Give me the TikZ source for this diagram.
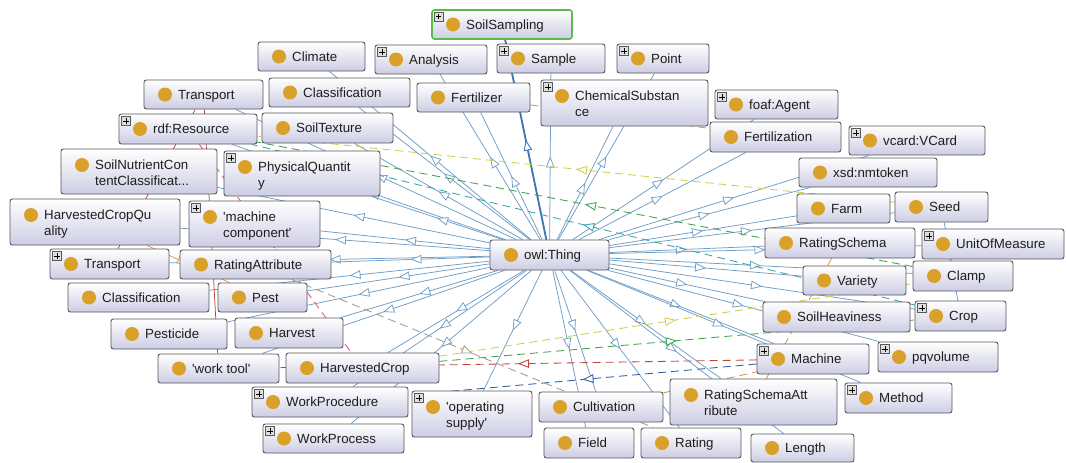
\documentclass[tikz,border=0pt]{standalone}
\usepackage{fontspec}
\setmainfont{Liberation Sans}
\usetikzlibrary{arrows.meta,decorations.markings,fit,shadings}

\definecolor{isac}{HTML}{6E9DC6}
\definecolor{ssc}{HTML}{3C78B5}
\definecolor{boxedge}{HTML}{55555F}
\definecolor{boxlav}{HTML}{CDCDE4}
\definecolor{dotgold}{HTML}{D9A02A}
\definecolor{textc}{HTML}{1E1E1E}
\definecolor{selgreen}{HTML}{5DBB4E}
\definecolor{relyel}{HTML}{D0D048}
\definecolor{relgrn}{HTML}{3FA34D}
\definecolor{relteal}{HTML}{3AA3B0}
\definecolor{relred}{HTML}{C2413A}
\definecolor{relblue}{HTML}{2F5F9E}
\definecolor{relorg}{HTML}{D8944A}
\definecolor{relgray}{HTML}{A59A88}
\definecolor{relpink}{HTML}{D45A7A}

\pgfdeclarelayer{canvas}
\pgfdeclarelayer{background}
\pgfsetlayers{canvas,background,main}

\tikzset{
  cbox/.style={rectangle, rounded corners=2.5pt, draw=boxedge, line width=0.9pt,
    top color=white, bottom color=boxlav, inner sep=0pt},
  dotc/.style={fill=dotgold},
  ctext/.style={font=\fontsize{13.3}{15.5}\selectfont, text=textc, inner sep=0pt},
  pbox/.style={draw=gray!70!black, fill=gray!25, line width=0.5pt},
  psign/.style={draw=black, line width=1.1pt},
  midarrow/.style={postaction={decorate}, decoration={markings,
    mark=at position 0.5 with {\arrow{Triangle[open, fill=white, length=11pt, width=8.5pt]}}}},
  isa/.style={color=isac, line width=0.75pt, midarrow},
  rel/.style={color=#1, line width=0.85pt, dash pattern=on 8pt off 5pt, midarrow},
  link/.style={color=#1, line width=0.75pt, midarrow},
}

% class box with a one-line label
\newcommand\onecls[6]{%
  \node[cbox, fit={(#2,#3) (#4,#5)}] (#1) {};
  \fill[dotc] ({#2+21},{(#3+#5)/2}) circle[radius=7pt];
  \node[ctext, anchor=base west] at ({#2+34},{(#3+#5)/2+4.8}) {#6};
}
% class box with a label broken over two lines
\newcommand\twocls[6]{%
  \node[cbox, fit={(#2,#3) (#4,#5)}] (#1) {};
  \fill[dotc] ({#2+21},{#3+16}) circle[radius=7pt];
  \node[ctext, anchor=north west, align=left] at ({#2+34},{#3+11.1}) {#6};
}
% expand marker in the upper left corner of a box
\newcommand\expandmark[1]{%
  \draw[pbox] ([shift={(3,3)}]#1.north west) rectangle ++(9,9);
  \draw[psign] ([shift={(4.9,7.5)}]#1.north west) -- ++(5.2,0)
               ([shift={(7.5,4.9)}]#1.north west) -- ++(0,5.2);
}

\begin{document}
\begin{tikzpicture}[x=1pt,y=-1pt]
\begin{pgfonlayer}{canvas}
  \fill[white] (0,0) rectangle (1066,463);
\end{pgfonlayer}
\useasboundingbox (0,0) rectangle (1066,463);

% ---- classes ----
\node[cbox, draw=selgreen, line width=1.6pt, fit={(432,10) (572,39)}] (soilsampling) {};
\fill[dotc] (453,24.5) circle[radius=7pt];
\node[ctext, anchor=base west] at (466,29.3) {SoilSampling};
\expandmark{soilsampling}

\onecls{climate}{258}{42}{365}{71}{Climate}
\onecls{analysis}{375}{45}{487}{74}{Analysis}\expandmark{analysis}
\onecls{sample}{497}{44}{605}{73}{Sample}\expandmark{sample}
\onecls{point}{617}{44}{709}{73}{Point}\expandmark{point}
\onecls{transportA}{144}{80}{263}{109}{Transport}
\onecls{classA}{269}{78}{410}{107}{Classification}
\onecls{fertilizer}{417}{83}{530}{112}{Fertilizer}
\twocls{chemical}{541}{80}{708}{126}{ChemicalSubstan\\ce}\expandmark{chemical}
\onecls{agent}{715}{90}{838}{119}{foaf:Agent}\expandmark{agent}
\onecls{fertilization}{710}{122}{841}{152}{Fertilization}
\onecls{vcard}{849}{126}{985}{155}{vcard:VCard}\expandmark{vcard}
\onecls{rdfres}{119}{114}{257}{144}{rdf:Resource}\expandmark{rdfres}
\onecls{soiltexture}{262}{113}{393}{143}{SoilTexture}
\twocls{soilnutrient}{61}{149}{217}{194}{SoilNutrientCon\\tentClassificat...}
\twocls{physq}{224}{151}{380}{196}{PhysicalQuantit\\y}\expandmark{physq}
\onecls{nmtoken}{799}{158}{937}{187}{xsd:nmtoken}
\twocls{hcq}{10}{199}{180}{245}{HarvestedCropQu\\ality}
\twocls{machcomp}{189}{201}{320}{247}{\textquotesingle machine\\component\textquotesingle}\expandmark{machcomp}
\onecls{farm}{797}{194}{890}{223}{Farm}
\onecls{seed}{895}{192}{988}{222}{Seed}
\onecls{ratingschema}{765}{228}{915}{258}{RatingSchema}
\onecls{unit}{922}{229}{1064}{259}{UnitOfMeasure}\expandmark{unit}
\onecls{thing}{490}{240}{609}{270}{owl:Thing}
\onecls{transportB}{50}{249}{169}{279}{Transport}\expandmark{transportB}
\onecls{ratingattr}{180}{250}{331}{279}{RatingAttribute}
\onecls{variety}{803}{266}{906}{295}{Variety}
\onecls{clamp}{913}{261}{1013}{291}{Clamp}
\onecls{classB}{68}{283}{209}{312}{Classification}
\onecls{pest}{218}{283}{307}{312}{Pest}
\onecls{soilheav}{763}{302}{910}{332}{SoilHeaviness}
\onecls{crop}{915}{301}{1006}{331}{Crop}\expandmark{crop}
\onecls{pesticide}{111}{319}{227}{349}{Pesticide}
\onecls{harvest}{235}{318}{343}{348}{Harvest}
\onecls{machine}{757}{344}{869}{374}{Machine}\expandmark{machine}
\onecls{pqvolume}{878}{342}{998}{372}{pqvolume}\expandmark{pqvolume}
\onecls{worktool}{158}{354}{279}{383}{\textquotesingle work tool\textquotesingle}
\onecls{harvcrop}{286}{353}{439}{383}{HarvestedCrop}
\twocls{rsa}{670}{379}{837}{425}{RatingSchemaAtt\\ribute}
\onecls{method}{845}{383}{952}{413}{Method}\expandmark{method}
\onecls{workproc}{252}{387}{408}{417}{WorkProcedure}\expandmark{workproc}
\twocls{opsupply}{412}{391}{532}{437}{\textquotesingle operating\\supply\textquotesingle}\expandmark{opsupply}
\onecls{cultivation}{539}{392}{663}{422}{Cultivation}
\onecls{workprocess}{263}{424}{404}{453}{WorkProcess}\expandmark{workprocess}
\onecls{field}{544}{428}{634}{458}{Field}
\onecls{rating}{641}{428}{741}{458}{Rating}
\onecls{lengthc}{751}{434}{854}{462}{Length}

% ---- connectors, drawn behind the boxes ----
\begin{pgfonlayer}{background}
  \foreach \n in {climate,analysis,sample,point,transportA,classA,fertilizer,
      chemical,agent,fertilization,vcard,rdfres,soiltexture,soilnutrient,physq,
      nmtoken,hcq,machcomp,farm,seed,ratingschema,unit,transportB,ratingattr,
      variety,clamp,classB,pest,soilheav,crop,pesticide,harvest,machine,pqvolume,
      worktool,harvcrop,rsa,method,workproc,opsupply,cultivation,workprocess,
      field,rating,lengthc}
    \draw[isa] (thing) -- (\n);
  % the selected class: a heavier line with the usual open head on top
  \draw[color=ssc, line width=1.8pt] (thing) -- (soilsampling);
  \draw[isa, color=ssc, line width=0.9pt] (thing) -- (soilsampling);

  % object property links
  \draw[rel=relyel] (seed) -- (rdfres);
  \draw[rel=relgrn] (clamp) -- (rdfres);
  \draw[rel=relteal] (crop) -- (rdfres);
  \draw[rel=relyel] (harvcrop) -- (clamp);
  \draw[rel=relgrn] (harvcrop) -- (crop);
  \draw[rel=relred] (machine) -- (worktool);
  \draw[rel=relblue] (machine) -- (workproc);
  \draw[rel=relorg] (cultivation) -- (machine);
  \draw[rel=relorg] (ratingschema) -- (rsa);
  \draw[rel=relgray] (ratingattr) -- (rating);
  \draw[rel=relorg] (fertilizer) -- (fertilization);
  \draw[rel=relpink] (rdfres) -- (harvcrop);
  \draw[link=relred] (transportA) -- (transportB);
  \draw[link=relred] (transportA) -- (worktool);
  \draw[link=relorg] (hcq) -- (pest);
  \draw[link=isac] (seed) -- (crop);
\end{pgfonlayer}
\end{tikzpicture}
\end{document}
